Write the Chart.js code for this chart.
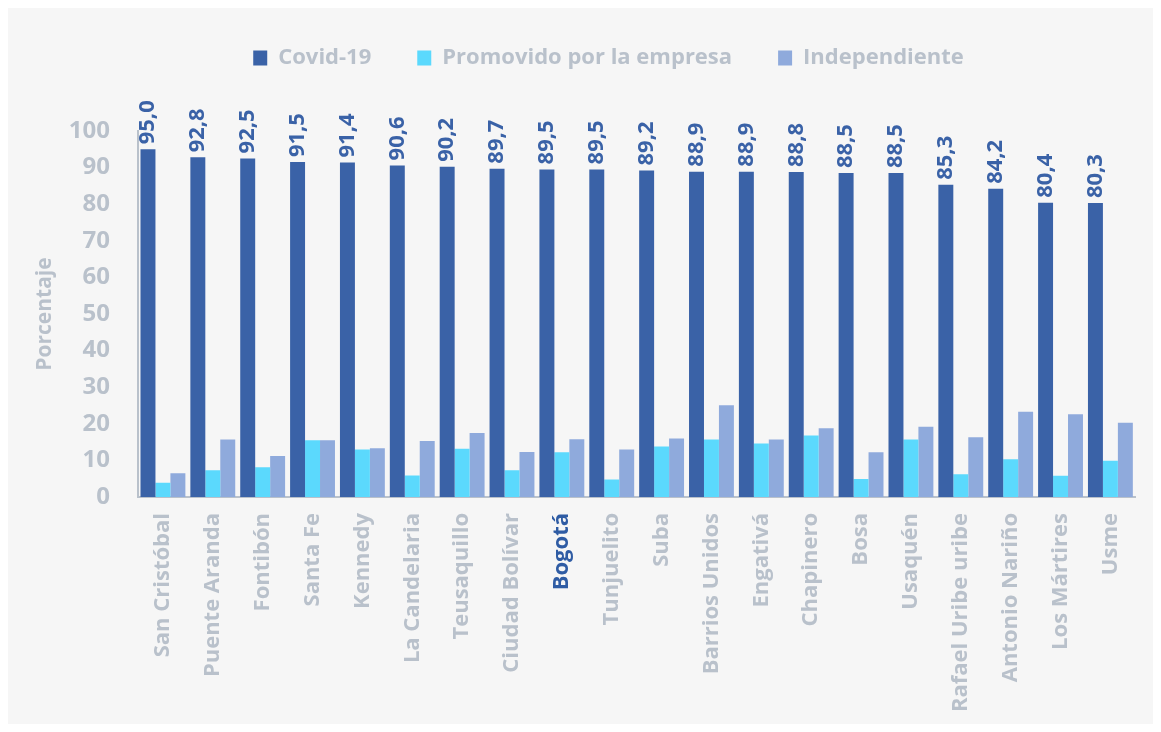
<!DOCTYPE html>
<html>
<head>
<meta charset="utf-8">
<script src="https://cdn.jsdelivr.net/npm/chart.js@4.4.1/dist/chart.umd.min.js"></script>
<style>
  html, body { margin: 0; padding: 0; background: #ffffff; }
  #wrap { position: absolute; left: 8px; top: 8px; width: 1145px; height: 716px; background: #f6f6f6; }
</style>
</head>
<body>
<div id="wrap"><canvas id="chart"></canvas></div>
<script>
// Localidades (Bogotá is the city total, highlighted)
const localidades = [
  'San Cristóbal', 'Puente Aranda', 'Fontibón', 'Santa Fe', 'Kennedy',
  'La Candelaria', 'Teusaquillo', 'Ciudad Bolívar', 'Bogotá', 'Tunjuelito',
  'Suba', 'Barrios Unidos', 'Engativá', 'Chapinero', 'Bosa',
  'Usaquén', 'Rafael Uribe uribe', 'Antonio Nariño', 'Los Mártires', 'Usme'
];

const covid = [95.0, 92.8, 92.5, 91.5, 91.4, 90.6, 90.2, 89.7, 89.5, 89.5,
               89.2, 88.9, 88.9, 88.8, 88.5, 88.5, 85.3, 84.2, 80.4, 80.3];
const promovido = [3.9, 7.3, 8.1, 15.5, 13.0, 5.9, 13.2, 7.3, 12.2, 4.8,
                   13.8, 15.7, 14.6, 16.8, 4.9, 15.7, 6.2, 10.3, 5.8, 9.9];
const independiente = [6.5, 15.7, 11.2, 15.5, 13.3, 15.3, 17.5, 12.3, 15.8, 13.0,
                       16.0, 25.1, 15.7, 18.8, 12.2, 19.2, 16.3, 23.3, 22.6, 20.3];

const yTicks = [0, 10, 20, 30, 40, 50, 60, 70, 80, 90, 100];

const grey = '#b9c1cb';
const dark = '#3a62a7';
const fontFamily = '"Open Sans", "Noto Sans", sans-serif';

// value labels above the Covid-19 bars, rotated
const valueLabels = {
  id: 'valueLabels',
  afterLayout(chart) {
    // move the legend up and right so it sits like the original
    const lg = chart.legend;
    lg.top -= 52; lg.bottom -= 52;
    lg.left += 32; lg.right += 32;
  },
  afterDatasetsDraw(chart) {
    const ctx = chart.ctx;
    const meta = chart.getDatasetMeta(0);
    ctx.save();
    ctx.fillStyle = dark;
    ctx.font = 'bold 22px ' + fontFamily;
    ctx.textAlign = 'left';
    ctx.textBaseline = 'middle';
    meta.data.forEach((bar, i) => {
      ctx.save();
      ctx.translate(bar.x, bar.y - 5);
      ctx.rotate(-Math.PI / 2);
      ctx.fillText(covid[i].toFixed(1).replace('.', ','), 0, 0);
      ctx.restore();
    });
    ctx.restore();
  }
};

new Chart(document.getElementById('chart'), {
  type: 'bar',
  data: {
    labels: localidades,
    datasets: [
      { label: 'Covid-19', data: covid, backgroundColor: '#3a62a7' },
      { label: 'Promovido por la empresa', data: promovido, backgroundColor: '#5bd9fd' },
      { label: 'Independiente', data: independiente, backgroundColor: '#8faadc' }
    ]
  },
  options: {
    responsive: true,
    maintainAspectRatio: false,
    animation: false,
    categoryPercentage: 0.9,
    barPercentage: 1.0,
    layout: { padding: { top: 45, right: 8, left: 0, bottom: 0 } },
    plugins: {
      tooltip: { enabled: false },
      legend: {
        position: 'top',
        labels: {
          color: grey,
          boxWidth: 14,
          boxHeight: 15,
          padding: 46,
          font: { family: fontFamily, size: 22, weight: 'bold' }
        }
      }
    },
    scales: {
      x: {
        afterFit: axis => { axis.height = 227; },
        grid: { display: false, drawTicks: false },
        border: { color: grey, width: 2 },
        ticks: {
          minRotation: 90,
          maxRotation: 90,
          padding: 16,
          color: ctx => localidades[ctx.index] === 'Bogotá' ? '#2f5ca4' : grey,
          font: { family: fontFamily, size: 22, weight: 'bold' }
        }
      },
      y: {
        min: 0,
        max: 100,
        afterFit: axis => { axis.width = 130; },
        afterBuildTicks: axis => { axis.ticks = yTicks.map(v => ({ value: v })); },
        grid: { display: false, drawTicks: false },
        border: { color: grey, width: 2 },
        title: {
          display: true,
          text: 'Porcentaje',
          color: grey,
          padding: { top: 24, bottom: 0 },
          font: { family: fontFamily, size: 21, weight: 'bold' }
        },
        ticks: {
          padding: 28,
          color: grey,
          font: { family: fontFamily, size: 24, weight: 'bold' }
        }
      }
    }
  },
  plugins: [valueLabels]
});
</script>
</body>
</html>
